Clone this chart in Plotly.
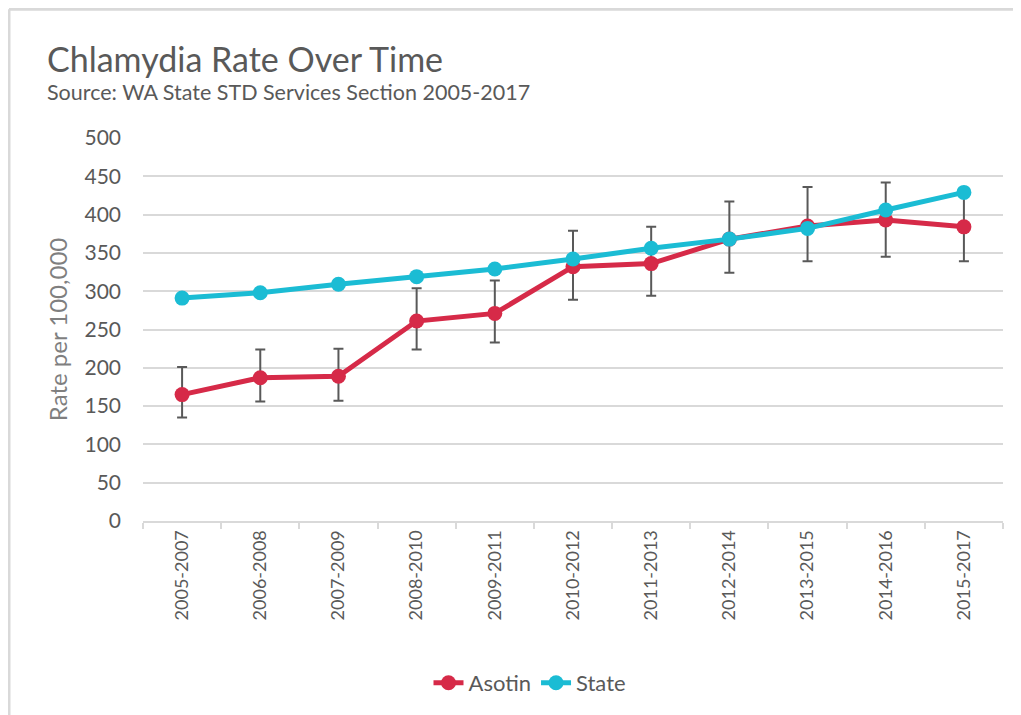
import plotly.graph_objects as go

periods = ["2005-2007", "2006-2008", "2007-2009", "2008-2010", "2009-2011", "2010-2012",
           "2011-2013", "2012-2014", "2013-2015", "2014-2016", "2015-2017"]
asotin = [165, 187, 189, 261, 271, 332, 336, 368, 385, 393, 384]
asotin_upper = [201, 224, 225, 304, 314, 379, 384, 417, 436, 442, 429]
asotin_lower = [135, 156, 157, 224, 233, 289, 294, 324, 339, 345, 339]
state = [291, 298, 309, 319, 329, 342, 356, 368, 382, 406, 429]

err_plus = [u - v for u, v in zip(asotin_upper, asotin)]
err_minus = [v - l for v, l in zip(asotin, asotin_lower)]

FONT = "Lato"
GREY = "#595959"

fig = go.Figure()
fig.add_trace(go.Scatter(
    x=periods, y=asotin, name="Asotin", mode="lines+markers",
    line=dict(color="#D62A48", width=5),
    marker=dict(color="#D62A48", size=15),
    error_y=dict(type="data", array=err_plus, arrayminus=err_minus,
                 color=GREY, thickness=2, width=5),
))
fig.add_trace(go.Scatter(
    x=periods, y=state, name="State", mode="lines+markers",
    line=dict(color="#1BBCD4", width=5),
    marker=dict(color="#1BBCD4", size=15),
))

fig.update_layout(
    width=1013, height=707,
    margin=dict(l=135, r=18, t=130, b=193),
    paper_bgcolor="white", plot_bgcolor="white",
    font=dict(family=FONT, color=GREY, size=17),
    showlegend=True,
    legend=dict(orientation="h", x=0.45, xref="paper", xanchor="center",
                y=-0.419, yanchor="middle", font=dict(size=22, color=GREY),
                tracegroupgap=0),
    annotations=[
        dict(text="Chlamydia Rate Over Time", xref="paper", yref="paper",
             x=-0.114, y=1.208, xanchor="left", yanchor="middle", showarrow=False,
             font=dict(size=34, color=GREY, family=FONT)),
        dict(text="Source: WA State STD Services Section 2005-2017", xref="paper", yref="paper",
             x=-0.114, y=1.12, xanchor="left", yanchor="middle", showarrow=False,
             font=dict(size=21.5, color=GREY, family=FONT)),
    ],
    shapes=[
        dict(type="line", xref="paper", yref="paper", x0=-0.1558, x1=1.05, y0=1.336, y1=1.336,
             line=dict(color="#D9D9D9", width=3)),
        dict(type="line", xref="paper", yref="paper", x0=-0.1558, x1=-0.1558, y0=-0.6, y1=1.336,
             line=dict(color="#D9D9D9", width=3)),
    ],
)

fig.update_xaxes(
    type="category", showgrid=False, showline=True, linecolor="#D9D9D9", linewidth=2,
    ticks="outside", tickson="boundaries", ticklen=6, tickcolor="#D9D9D9", tickwidth=2,
    tickangle=-90, tickfont=dict(size=18, color=GREY), range=[-0.5, 10.5],
)
fig.update_yaxes(
    range=[0, 500], dtick=50, showgrid=True, gridcolor="#D9D9D9", gridwidth=2,
    zeroline=False, showline=False, tickfont=dict(size=21, color=GREY),
    ticks="", ticklabelstandoff=21,
    title=dict(text="Rate per 100,000", font=dict(size=24, color="#7F7F7F"), standoff=10),
)

fig.write_html("out.html")
